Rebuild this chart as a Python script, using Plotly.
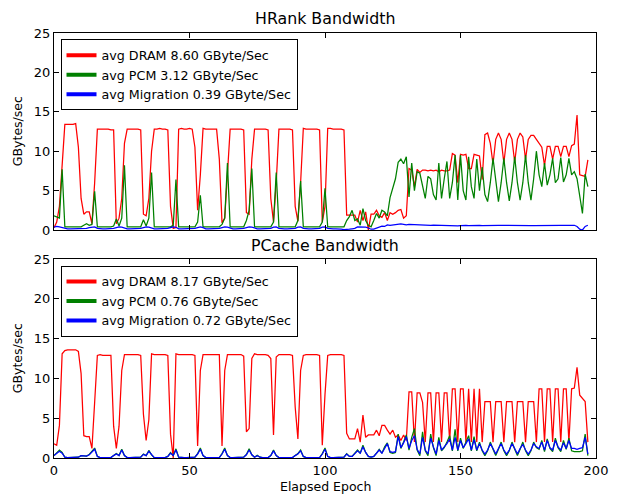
import plotly.graph_objects as go

# ---------------- data (GBytes/sec per elapsed epoch) ----------------
hr_dram = [
    0.3, 1.0, 3.0, 9.0, 13.4, 13.4, 13.4, 13.4, 13.5, 10.5,
    4.0, 2.0, 2.3, 2.3, 0.8, 6.0, 12.8, 12.8, 12.8, 12.8,
    12.8, 12.7, 12.7, 0.8, 1.5, 4.0, 11.0, 12.8, 12.8, 12.8,
    12.8, 12.8, 12.7, 2.0, 1.8, 4.0, 10.0, 12.8, 12.8, 12.9,
    12.8, 12.8, 12.7, 3.0, 0.2, 0.3, 12.8, 12.9, 12.8, 12.8,
    12.9, 12.8, 10.5, 2.5, 7.0, 12.9, 12.8, 12.8, 12.8, 12.8,
    12.8, 9.0, 0.9, 1.5, 8.0, 12.8, 12.8, 12.8, 12.8, 12.8,
    12.7, 2.2, 2.0, 9.0, 12.8, 12.8, 12.8, 12.8, 12.8, 12.7,
    4.0, 1.0, 6.0, 12.8, 12.8, 12.8, 12.8, 12.8, 12.7, 3.0,
    1.1, 6.0, 12.9, 12.8, 12.8, 12.8, 12.8, 12.8, 12.7, 1.0,
    3.0, 12.9, 12.9, 12.8, 12.8, 12.8, 12.8, 12.7, 1.9, 1.9,
    1.9, 1.9, 1.0, 2.5, 1.2, 2.3, 0.0, 2.0, 2.0, 2.5,
    1.8, 1.6, 2.2, 1.2, 2.2, 2.0, 2.2, 2.5, 2.6, 1.5,
    1.8, 7.8, 7.6, 5.5, 7.7, 7.3, 7.6, 7.6, 7.5, 7.6,
    7.5, 7.6, 7.4, 7.6, 7.5, 7.5, 7.6, 9.7, 9.5, 6.0,
    9.6, 9.5, 9.6, 7.8, 7.8, 9.6, 9.5, 9.4, 6.4, 12.1,
    12.3, 11.0, 8.4, 11.5, 12.3, 11.5, 8.5, 11.5, 12.3, 11.5,
    8.6, 11.5, 12.3, 11.8, 9.0, 11.5, 12.0, 12.0, 11.5, 11.0,
    10.5, 8.2, 10.6, 10.6, 9.0, 10.6, 10.6, 9.3, 10.6, 10.6,
    9.3, 10.7, 10.9, 14.6, 7.0, 6.9, 6.8, 8.9,
]
hr_pcm = [
    1.8, 1.6, 1.5, 7.7, 0.4, 0.4, 0.4, 0.4, 0.4, 0.4,
    0.4, 0.6, 0.8, 0.6, 0.7, 4.9, 0.4, 0.4, 0.4, 0.4,
    0.4, 0.4, 0.5, 1.4, 0.5, 1.5, 8.2, 0.4, 0.4, 0.4,
    0.4, 0.4, 0.4, 1.3, 0.5, 1.5, 7.3, 0.4, 0.4, 0.4,
    0.4, 0.4, 0.4, 0.4, 0.6, 6.4, 0.4, 0.4, 0.4, 0.4,
    0.4, 0.4, 0.4, 1.0, 4.4, 0.4, 0.4, 0.4, 0.4, 0.4,
    0.4, 0.4, 0.7, 1.5, 8.5, 0.4, 0.4, 0.4, 0.4, 0.4,
    0.4, 1.2, 2.5, 7.8, 0.4, 0.4, 0.4, 0.4, 0.4, 0.4,
    0.4, 1.0, 7.3, 0.4, 0.4, 0.4, 0.4, 0.4, 0.4, 0.4,
    1.2, 6.2, 0.4, 0.4, 0.4, 0.4, 0.4, 0.4, 0.4, 1.0,
    5.3, 0.4, 0.4, 0.4, 0.4, 0.4, 0.4, 0.4, 1.2, 1.7,
    2.5, 1.2, 1.4, 0.6, 2.7, 1.2, 0.6, 0.4, 1.2, 2.1,
    1.5, 2.5, 2.3, 1.8, 4.1, 5.3, 6.5, 8.6, 9.0, 8.4,
    9.3, 4.2, 8.5, 5.0, 7.4, 7.2, 5.5, 4.0, 6.8, 6.5,
    4.5, 3.8, 8.5, 4.0, 6.5, 8.7, 4.0, 6.0, 9.5, 3.8,
    9.5, 5.0, 3.8, 9.3, 5.5, 4.0, 9.0, 5.0, 8.0, 4.5,
    3.6, 6.0, 9.1, 6.0, 3.6, 6.0, 9.1, 6.0, 3.7, 6.0,
    9.3, 6.0, 3.8, 6.0, 9.5, 6.0, 3.8, 6.5, 10.0, 7.0,
    5.5, 8.5, 5.7, 7.0, 9.1, 6.0, 6.5, 9.2, 6.1, 7.0,
    9.1, 7.0, 7.4, 6.5, 4.5, 2.1, 7.1, 5.5,
]
hr_mig = [
    0.35, 0.45, 0.4, 0.3, 0.2, 0.15, 0.15, 0.15, 0.15, 0.15,
    0.15, 0.15, 0.2, 0.3, 0.35, 0.4, 0.2, 0.15, 0.15, 0.15,
    0.15, 0.15, 0.2, 0.3, 0.4, 0.35, 0.2, 0.15, 0.15, 0.15,
    0.15, 0.15, 0.2, 0.3, 0.4, 0.35, 0.2, 0.15, 0.15, 0.15,
    0.15, 0.15, 0.2, 0.3, 0.4, 0.35, 0.15, 0.15, 0.15, 0.15,
    0.15, 0.15, 0.2, 0.3, 0.4, 0.3, 0.15, 0.15, 0.15, 0.15,
    0.15, 0.2, 0.3, 0.4, 0.35, 0.2, 0.15, 0.15, 0.15, 0.15,
    0.2, 0.3, 0.4, 0.35, 0.2, 0.15, 0.15, 0.15, 0.15, 0.15,
    0.2, 0.35, 0.4, 0.2, 0.15, 0.15, 0.15, 0.15, 0.15, 0.2,
    0.35, 0.4, 0.2, 0.15, 0.15, 0.15, 0.15, 0.15, 0.2, 0.35,
    0.4, 0.2, 0.15, 0.15, 0.15, 0.15, 0.1, 0.05, 0.05, 0.1,
    0.15, 0.2, 0.4, 0.4, 0.4, 0.35, 0.25, 0.1, 0.1, 0.2,
    0.4, 0.5, 0.45, 0.65, 0.6, 0.65, 0.7, 0.76, 0.76, 0.72,
    0.65, 0.7, 0.68, 0.66, 0.64, 0.62, 0.6, 0.62, 0.6, 0.6,
    0.62, 0.6, 0.6, 0.58, 0.6, 0.58, 0.56, 0.55, 0.52, 0.52,
    0.55, 0.6, 0.58, 0.56, 0.58, 0.6, 0.58, 0.57, 0.56, 0.58,
    0.6, 0.58, 0.57, 0.58, 0.6, 0.58, 0.57, 0.56, 0.58, 0.58,
    0.57, 0.56, 0.57, 0.58, 0.57, 0.57, 0.56, 0.57, 0.58, 0.57,
    0.56, 0.57, 0.57, 0.57, 0.56, 0.57, 0.57, 0.58, 0.58, 0.57,
    0.58, 0.6, 0.6, 0.45, 0.1, 0.0, 0.45, 0.6,
]
pc_dram = [
    1.8, 1.6, 4.1, 13.1, 13.5, 13.6, 13.6, 13.6, 13.6, 13.4,
    10.6, 2.8, 2.7, 2.7, 1.2, 7.0, 12.9, 13.0, 12.9, 12.9,
    12.9, 12.9, 4.0, 1.2, 4.0, 11.0, 13.0, 13.0, 13.0, 13.0,
    13.0, 13.0, 12.9, 5.5, 2.2, 4.8, 13.1, 13.0, 13.0, 13.0,
    13.0, 13.0, 12.9, 3.0, 0.0, 13.1, 13.0, 13.0, 13.0, 13.0,
    13.0, 13.0, 12.9, 1.5, 11.0, 13.0, 13.0, 13.0, 13.0, 13.0,
    13.0, 13.0, 1.5, 11.0, 13.0, 13.0, 13.0, 13.0, 13.0, 13.0,
    12.8, 3.3, 3.7, 12.5, 13.1, 13.0, 13.0, 13.0, 13.0, 12.9,
    12.5, 2.9, 12.7, 13.0, 13.0, 13.0, 13.0, 13.0, 12.9, 6.4,
    2.4, 11.0, 12.9, 13.0, 13.0, 13.0, 13.0, 13.0, 12.9, 1.6,
    8.0, 12.9, 13.0, 13.0, 13.0, 13.0, 13.0, 12.9, 3.1, 2.4,
    2.4, 2.4, 3.7, 2.0, 5.4, 2.6, 2.9, 2.9, 2.9, 3.5,
    2.8, 4.1, 4.1, 3.5, 3.0, 3.5, 2.6, 2.9, 2.2, 2.9,
    2.2, 8.3, 8.3, 2.0, 8.2, 8.2, 7.0, 2.0, 8.2, 8.2,
    2.0, 8.2, 8.2, 2.0, 8.2, 8.2, 2.0, 8.7, 8.7, 2.0,
    8.7, 8.7, 2.0, 8.7, 2.0, 8.7, 2.0, 8.7, 2.0, 7.1,
    7.1, 7.1, 2.0, 7.1, 7.1, 7.1, 2.0, 7.1, 7.1, 7.1,
    2.0, 7.1, 7.1, 7.1, 2.0, 7.1, 7.1, 7.1, 2.0, 8.7,
    8.7, 2.0, 8.7, 8.7, 2.0, 8.7, 8.7, 2.0, 8.7, 8.7,
    2.0, 8.7, 8.8, 11.4, 7.9, 7.5, 7.1, 2.0,
]
pc_pcm = [
    0.3, 0.7, 1.0, 0.7, 0.1, 0.05, 0.05, 0.05, 0.05, 0.1,
    0.3, 0.3, 0.25, 0.45, 0.9, 1.25, 0.2, 0.05, 0.05, 0.05,
    0.05, 0.05, 0.3, 0.55, 0.3, 1.1, 0.3, 0.05, 0.05, 0.05,
    0.05, 0.05, 0.1, 0.5, 0.3, 0.95, 0.4, 0.05, 0.05, 0.05,
    0.05, 0.05, 0.2, 0.7, 0.3, 1.15, 0.1, 0.05, 0.05, 0.05,
    0.05, 0.05, 0.1, 0.55, 1.25, 0.3, 0.05, 0.05, 0.05, 0.05,
    0.05, 0.05, 0.55, 1.25, 0.3, 0.05, 0.05, 0.05, 0.05, 0.05,
    0.1, 0.45, 1.15, 0.4, 0.1, 0.35, 0.1, 0.05, 0.05, 0.05,
    0.3, 1.0, 0.3, 0.05, 0.05, 0.05, 0.05, 0.05, 0.05, 0.3,
    0.55, 1.0, 0.2, 0.05, 0.05, 0.05, 0.05, 0.05, 0.05, 0.55,
    1.25, 0.2, 0.05, 0.05, 0.05, 0.05, 0.05, 0.1, 0.55, 0.2,
    0.2, 0.55, 1.0, 0.6, 1.6, 0.7, 0.2, 0.1, 0.2, 0.6,
    1.1, 0.6, 1.4, 1.9, 0.7, 0.6, 0.7, 3.0, 1.2, 2.0,
    2.9, 1.0, 2.6, 3.7, 1.0, 0.3, 3.3, 0.9, 0.3, 3.0,
    1.3, 0.3, 2.6, 0.9, 1.3, 2.0, 2.8, 0.9, 3.6, 0.9,
    2.5, 1.2, 2.0, 2.8, 0.9, 2.7, 0.9, 2.0, 0.9, 0.3,
    0.9, 2.0, 1.1, 0.3, 1.1, 2.0, 0.9, 0.3, 0.9, 2.0,
    1.1, 0.3, 1.1, 2.0, 0.9, 0.3, 0.9, 2.0, 1.3, 1.1,
    2.2, 0.8, 2.4, 1.2, 0.8, 2.5, 1.3, 0.8, 2.2, 1.1,
    2.5, 0.9, 0.8, 0.8, 0.8, 0.9, 3.0, 0.3,
]
pc_mig = [
    0.3, 0.6, 0.85, 0.6, 0.1, 0.05, 0.05, 0.05, 0.05, 0.1,
    0.3, 0.3, 0.25, 0.4, 0.8, 1.1, 0.2, 0.05, 0.05, 0.05,
    0.05, 0.05, 0.3, 0.5, 0.3, 1.0, 0.3, 0.05, 0.05, 0.05,
    0.05, 0.05, 0.1, 0.45, 0.3, 0.85, 0.4, 0.05, 0.05, 0.05,
    0.05, 0.05, 0.2, 0.6, 0.3, 1.0, 0.1, 0.05, 0.05, 0.05,
    0.05, 0.05, 0.1, 0.5, 1.1, 0.3, 0.05, 0.05, 0.05, 0.05,
    0.05, 0.05, 0.5, 1.1, 0.3, 0.05, 0.05, 0.05, 0.05, 0.05,
    0.1, 0.4, 1.0, 0.4, 0.1, 0.3, 0.1, 0.05, 0.05, 0.05,
    0.3, 0.9, 0.3, 0.05, 0.05, 0.05, 0.05, 0.05, 0.05, 0.3,
    0.5, 0.9, 0.2, 0.05, 0.05, 0.05, 0.05, 0.05, 0.05, 0.5,
    1.1, 0.2, 0.05, 0.05, 0.05, 0.05, 0.05, 0.1, 0.5, 0.2,
    0.2, 0.5, 0.9, 0.6, 1.4, 0.7, 0.2, 0.1, 0.2, 0.6,
    1.0, 0.6, 1.3, 1.8, 0.8, 0.7, 0.8, 2.7, 1.3, 1.9,
    2.7, 1.2, 2.2, 2.8, 1.1, 0.5, 2.6, 1.0, 0.5, 2.5,
    1.4, 0.5, 2.2, 1.0, 1.4, 1.8, 2.4, 1.0, 2.6, 1.0,
    2.2, 1.3, 1.8, 2.4, 1.0, 2.3, 1.0, 1.8, 1.0, 0.5,
    1.0, 1.8, 1.2, 0.5, 1.2, 1.8, 1.0, 0.5, 1.0, 1.8,
    1.2, 0.5, 1.2, 1.7, 1.0, 0.5, 1.0, 1.8, 1.4, 1.2,
    2.0, 1.0, 2.2, 1.3, 1.0, 2.2, 1.4, 1.0, 1.9, 1.2,
    2.2, 1.2, 1.2, 1.1, 1.2, 1.3, 2.6, 0.5,
]

hr_labels = ["avg DRAM 8.60 GByte/Sec", "avg PCM 3.12 GByte/Sec", "avg Migration 0.39 GByte/Sec"]
pc_labels = ["avg DRAM 8.17 GByte/Sec", "avg PCM 0.76 GByte/Sec", "avg Migration 0.72 GByte/Sec"]
titles = ["HRank Bandwidth", "PCache Bandwidth"]
x_ticks = [0, 50, 100, 150, 200]
y_ticks = [0, 5, 10, 15, 20, 25]
colors = ["#ff0000", "#008000", "#0000ff"]

FONT = "DejaVu Sans"
fig = go.Figure()

panels = [
    ("x", "y", "legend", [hr_dram, hr_pcm, hr_mig], hr_labels),
    ("x2", "y2", "legend2", [pc_dram, pc_pcm, pc_mig], pc_labels),
]
for xa, ya, lg, series, labels in panels:
    for vals, col in zip(series, colors):
        fig.add_trace(go.Scatter(
            x=list(range(len(vals))), y=vals, mode="lines",
            line=dict(color=col, width=1.25), showlegend=False,
            xaxis=xa, yaxis=ya, hoverinfo="skip"))
    for lab, col in zip(labels, colors):
        fig.add_trace(go.Scatter(
            x=[None], y=[None], mode="lines", name=lab,
            line=dict(color=col, width=4), legend=lg,
            xaxis=xa, yaxis=ya))

axis_common = dict(
    showgrid=False, zeroline=False, showline=True, linecolor="black",
    linewidth=1, mirror="allticks", ticks="inside", ticklen=5,
    tickcolor="black", tickwidth=1,
    tickfont=dict(family=FONT, size=13, color="black"),
)
top_dom = [0.5365, 1.0]
bot_dom = [0.0, 0.468]

legend_common = dict(
    xanchor="left", yanchor="top", bgcolor="white", bordercolor="black",
    borderwidth=1, font=dict(family=FONT, size=12.7, color="black"),
    tracegroupgap=0,
)

fig.update_layout(
    width=620, height=496,
    margin=dict(l=54, r=15, t=33, b=38),
    paper_bgcolor="white", plot_bgcolor="white",
    font=dict(family=FONT, color="black"),
    xaxis=dict(axis_common, domain=[0, 1], anchor="y", range=[0, 200],
               tickvals=x_ticks, showticklabels=False),
    yaxis=dict(axis_common, domain=top_dom, anchor="x", range=[0, 25],
               tickvals=y_ticks),
    xaxis2=dict(axis_common, domain=[0, 1], anchor="y2", range=[0, 200],
                tickvals=x_ticks),
    yaxis2=dict(axis_common, domain=bot_dom, anchor="x2", range=[0, 25],
                tickvals=y_ticks),
    legend=dict(legend_common, x=0.012, y=0.985),
    legend2=dict(legend_common, x=0.012, y=0.4525),
    annotations=[
        dict(text=titles[0], x=0.5, y=1.033, xref="paper", yref="paper",
             showarrow=False, xanchor="center", yanchor="middle",
             font=dict(family=FONT, size=15.8, color="black")),
        dict(text=titles[1], x=0.5, y=0.4995, xref="paper", yref="paper",
             showarrow=False, xanchor="center", yanchor="middle",
             font=dict(family=FONT, size=15.8, color="black")),
        dict(text="GBytes/sec", x=-0.067, y=sum(top_dom) / 2, xref="paper",
             yref="paper", showarrow=False, textangle=-90,
             xanchor="center", yanchor="middle",
             font=dict(family=FONT, size=12.5, color="black")),
        dict(text="GBytes/sec", x=-0.067, y=sum(bot_dom) / 2, xref="paper",
             yref="paper", showarrow=False, textangle=-90,
             xanchor="center", yanchor="middle",
             font=dict(family=FONT, size=12.5, color="black")),
        dict(text="Elapsed Epoch", x=0.5, y=-0.0675, xref="paper",
             yref="paper", showarrow=False, xanchor="center",
             yanchor="middle",
             font=dict(family=FONT, size=12.5, color="black")),
    ],
)

fig.write_html("out.html")
